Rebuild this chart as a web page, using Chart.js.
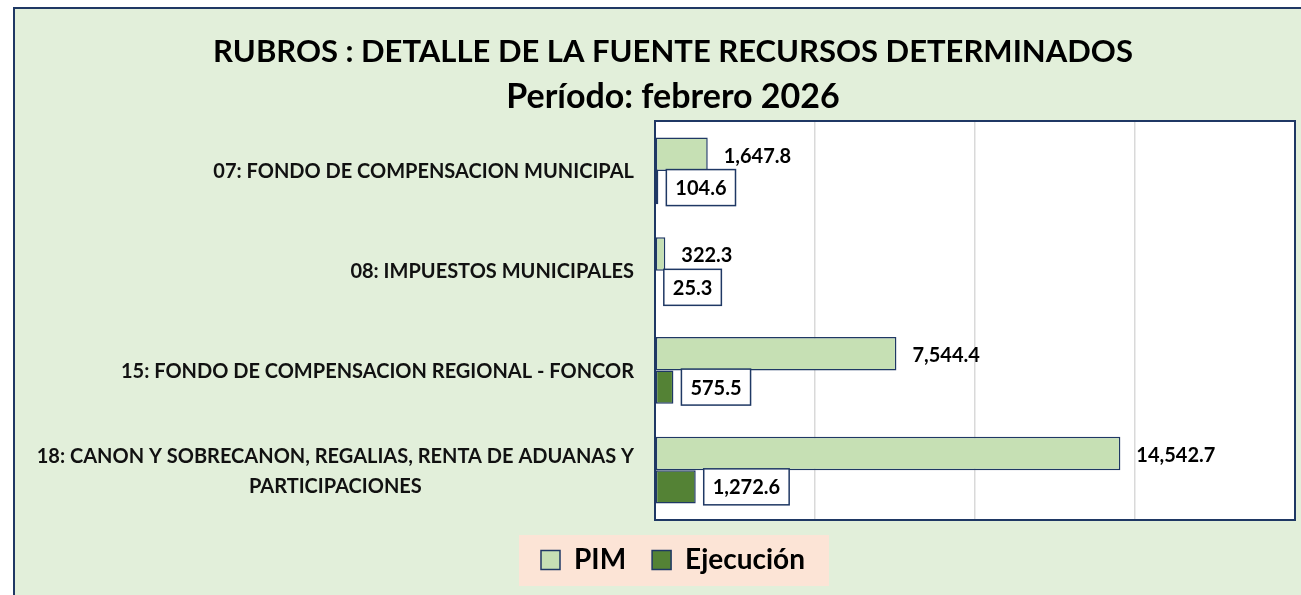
<!DOCTYPE html>
<html>
<head>
<meta charset="utf-8">
<script src="https://cdn.jsdelivr.net/npm/chart.js@4.4.1/dist/chart.umd.min.js"></script>
<style>
  html, body { margin: 0; padding: 0; background: #fff; width: 1301px; height: 595px; overflow: hidden; }
  #frame { position: absolute; left: 13px; top: 7px; width: 1330px; height: 600px;
           border-left: 2px solid #1F3864; border-top: 2px solid #1F3864; background: #E2EFDA; }
  #chart { display: block; }
</style>
</head>
<body>
<div id="frame"><canvas id="chart" width="1316" height="588"></canvas></div>
<script>
// categorías (rubros) y valores en miles
const categories = [
    ['07: FONDO DE COMPENSACION MUNICIPAL'],
    ['08: IMPUESTOS MUNICIPALES'],
    ['15: FONDO DE COMPENSACION REGIONAL - FONCOR'],
    ['18: CANON Y SOBRECANON, REGALIAS, RENTA DE ADUANAS Y', 'PARTICIPACIONES']
];
const pimValues = [1647.8, 322.3, 7544.4, 14542.7];
const ejecucionValues = [104.6, 25.3, 575.5, 1272.6];
const xMax = 20000;
const xStep = 5000;

const NAVY = '#1F3864';
const FONT = 'Lato';

function fmt(v) {
    return v.toLocaleString('en-US', { minimumFractionDigits: 1, maximumFractionDigits: 1 });
}

// fondo blanco del área, fondo de la leyenda y borde
const areaPlugin = {
    id: 'areaBox',
    beforeDraw(chart) {
        const { ctx, chartArea: a } = chart;
        ctx.save();
        ctx.fillStyle = '#fff';
        ctx.fillRect(a.left, a.top, a.right - a.left, a.bottom - a.top);
        const boxes = chart.legend.legendHitBoxes;
        if (boxes && boxes.length) {
            const first = boxes[0], last = boxes[boxes.length - 1];
            const cy = first.top + first.height / 2;
            ctx.fillStyle = '#FCE4D6';
            ctx.fillRect(first.left - 22, cy - 25, last.left + last.width - first.left + 46, 51);
        }
        ctx.restore();
    },
    beforeDatasetsDraw(chart) {
        const { ctx, chartArea: a } = chart;
        ctx.save();
        ctx.strokeStyle = NAVY;
        ctx.lineWidth = 2;
        ctx.strokeRect(a.left, a.top, a.right - a.left, a.bottom - a.top);
        ctx.restore();
    }
};

// etiquetas de categorías y valores
const labelPlugin = {
    id: 'labels',
    afterDatasetsDraw(chart) {
        const { ctx, chartArea: a } = chart;
        const yScale = chart.scales.y;
        ctx.save();
        ctx.textBaseline = 'middle';
        ctx.fillStyle = '#111';
        ctx.font = 'bold 20px ' + FONT;
        categories.forEach((lines, i) => {
            const y = yScale.getPixelForValue(i);
            const xr = a.left - 21;
            if (lines.length === 1) {
                ctx.textAlign = 'right';
                ctx.fillText(lines[0], xr, y + 1);
            } else {
                const w = ctx.measureText(lines[0]).width;
                const cx = xr - w / 2;
                ctx.textAlign = 'center';
                lines.forEach((t, k) => ctx.fillText(t, cx, y + 1 + (k - (lines.length - 1) / 2) * 30));
            }
        });

        ctx.textAlign = 'left';
        ctx.font = 'bold 20px ' + FONT;
        chart.getDatasetMeta(0).data.forEach((bar, i) => {
            ctx.fillStyle = '#000';
            ctx.fillText(fmt(pimValues[i]), bar.x + 16, bar.y + 2);
        });
        chart.getDatasetMeta(1).data.forEach((bar, i) => {
            const t = fmt(ejecucionValues[i]);
            const w = ctx.measureText(t).width + 18;
            const x0 = bar.x + 8;
            const h = 36;
            ctx.fillStyle = '#fff';
            ctx.fillRect(x0, bar.y - h / 2, w, h);
            ctx.strokeStyle = NAVY;
            ctx.lineWidth = 1.5;
            ctx.strokeRect(x0, bar.y - h / 2, w, h);
            ctx.fillStyle = '#000';
            ctx.fillText(t, x0 + 9, bar.y + 1);
        });
        ctx.restore();
    }
};

const ctx = document.getElementById('chart').getContext('2d');
new Chart(ctx, {
    type: 'bar',
    data: {
        labels: categories,
        datasets: [{
            label: 'PIM',
            data: pimValues,
            backgroundColor: '#C6E0B4',
            borderColor: NAVY,
            borderWidth: 1.5,
            borderSkipped: false
        }, {
            label: 'Ejecución',
            data: ejecucionValues,
            backgroundColor: '#548235',
            borderColor: NAVY,
            borderWidth: 1.5,
            borderSkipped: false
        }]
    },
    options: {
        indexAxis: 'y',
        responsive: false,
        animation: false,
        datasets: { bar: { categoryPercentage: 0.67, barPercentage: 1.0 } },
        layout: { padding: { left: 36, right: 36, top: 0, bottom: 13 } },
        scales: {
            x: {
                min: 0,
                max: xMax,
                ticks: { display: false, stepSize: xStep },
                grid: { color: '#D9D9D9', lineWidth: 1.5, drawTicks: false },
                border: { display: false },
                afterFit(scale) { scale.height = 0; }
            },
            y: {
                ticks: { display: false },
                grid: { display: false, drawTicks: false },
                border: { display: false },
                afterFit(scale) { scale.width = 604; }
            }
        },
        plugins: {
            title: {
                display: true,
                text: 'RUBROS : DETALLE DE LA FUENTE RECURSOS DETERMINADOS',
                color: '#000',
                font: { family: FONT, size: 31, weight: 'bold', lineHeight: 1.2 },
                padding: { top: 24, bottom: 0 }
            },
            subtitle: {
                display: true,
                text: 'Período: febrero 2026',
                color: '#000',
                font: { family: FONT, size: 34, weight: 'bold', lineHeight: 1.2 },
                padding: { top: 6, bottom: 4 }
            },
            legend: {
                position: 'bottom',
                labels: {
                    color: '#000',
                    boxWidth: 19,
                    boxHeight: 19,
                    padding: 26,
                    font: { family: FONT, size: 28, weight: 'bold' }
                }
            },
            tooltip: { enabled: false }
        }
    },
    plugins: [areaPlugin, labelPlugin]
});
</script>
</body>
</html>
